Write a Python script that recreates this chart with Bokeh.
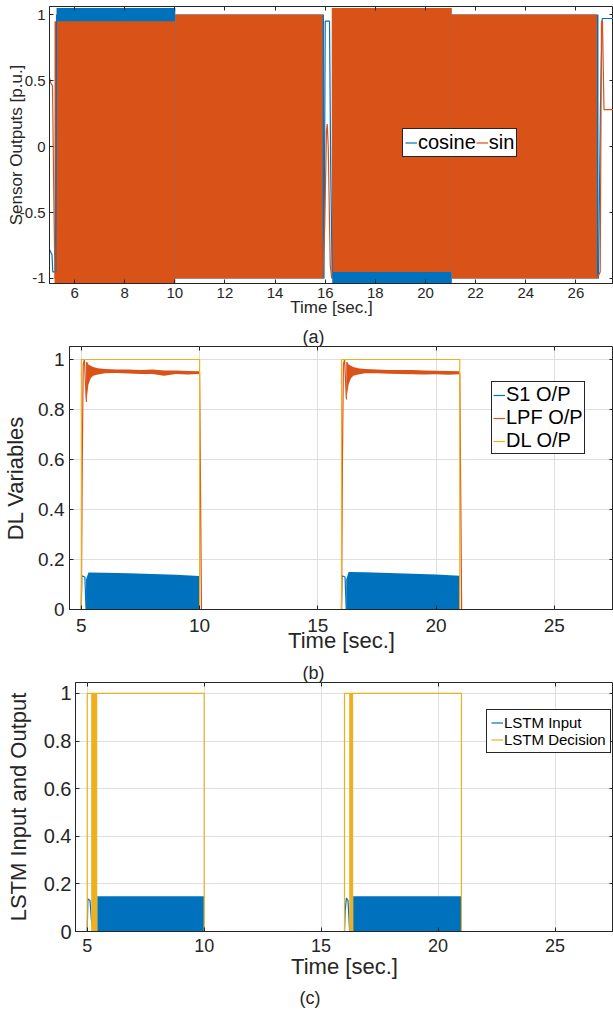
from bokeh.plotting import figure
from bokeh.models import (Range1d, FixedTicker, CustomJSTickFormatter, Legend,
                          LegendItem, Title, LinearAxis)
from bokeh.embed import file_html
from bokeh.resources import INLINE

FONT = "Liberation Sans"
TXT = "#262626"
BLUE = "#0072BD"
ORANGE = "#D95319"
YELLOW = "#EDB120"
GRID = "#DFDFDF"
NAN = float("nan")

# ---------------- Panel (a) data ----------------
a_xticks = [6, 8, 10, 12, 14, 16, 18, 20, 22, 24, 26]
a_yticks = [-1, -0.5, 0, 0.5, 1]
a_cos_pre_t = [5.0, 5.1, 5.13, 5.25, 5.28]
a_cos_pre_v = [-0.78, -0.82, -0.95, -0.95, 1.0]
a_cos_mid_t = [15.95, 16.0, 16.17, 16.22, 16.28]
a_cos_mid_v = [-1.0, 0.95, 0.95, -0.2, -1.0]
a_cos_end_t = [26.9, 26.98, 27.05, 27.5]
a_cos_end_v = [-1.0, 0.3, 0.97, 0.97]
a_sin_pre_t = [5.0, 5.05, 5.12, 5.18, 5.22]
a_sin_pre_v = [0.52, 0.48, 0.46, -0.5, -1.0]
a_sin_mid_t = [15.9, 15.98, 16.05, 16.08, 16.12, 16.2, 16.26]
a_sin_mid_v = [-1.0, -0.6, 0.12, 0.17, 0.0, -0.9, -1.0]
a_sin_end_t = [26.84, 26.97, 27.02, 27.06, 27.12, 27.5]
a_sin_end_v = [-1.0, -0.95, 0.95, 0.95, 0.28, 0.28]
# envelopes of the dense oscillation
a_cos_band_l = [5.28, 10.02, 16.28, 21.05]
a_cos_band_r = [10.02, 15.95, 21.05, 26.9]
a_cos_band_b = [-1.0, -1.0, -1.05, -1.0]
a_cos_band_t = [1.05, 1.0, 1.0, 1.0]
a_sin_band_l = [5.2, 10.02, 16.26, 21.05]
a_sin_band_r = [10.02, 15.9, 21.05, 26.84]
a_sin_band_b = [-1.05, -1.0, -0.95, -1.0]
a_sin_band_t = [0.95, 1.0, 1.05, 1.0]

# ---------------- Panel (b) data ----------------
bc_xticks = [5, 10, 15, 20, 25]
bc_yticks = [0, 0.2, 0.4, 0.6, 0.8, 1]
b_s1_t = [4.5, 5.0, 5.02, 5.15, 5.2, 10.0, 16.0, 16.02, 16.15, 16.2, 21.0, 27.5]
b_s1_v = [0, 0, 0.135, 0.13, 0.0, 0.0, 0, 0.135, 0.13, 0, 0, 0]
b_s1_band1_t = [5.2, 5.3, 6.0, 7.0, 8.0, 9.0, 10.0]
b_s1_band1_top = [0.12, 0.148, 0.147, 0.145, 0.142, 0.139, 0.134]
b_s1_band2_t = [16.2, 16.3, 17.0, 18.0, 19.0, 20.0, 21.0]
b_s1_band2_top = [0.12, 0.15, 0.149, 0.146, 0.143, 0.14, 0.135]
b_lpf_t = [4.5, 5.0, 5.04, 5.08, 5.13, 5.2, 5.22, NAN, 10.0, 10.08, 16.0, 16.04, 16.08,
           16.13, 16.2, 16.22, NAN, 21.0, 21.08, 27.5]
b_lpf_v = [0, 0, 0.6, 0.98, 1.0, 0.85, 0.83, NAN, 0.945, 0, 0, 0.6, 0.98,
           1.0, 0.85, 0.84, NAN, 0.945, 0, 0]
b_lpf_band1_t = [5.2, 5.25, 5.3, 5.4, 5.5, 5.7, 6.0, 6.5, 7.0, 7.5, 8.0, 8.5, 9.0, 9.5, 10.0]
b_lpf_band1_lo = [0.83, 0.86, 0.9, 0.925, 0.935, 0.94, 0.945, 0.946, 0.944, 0.942, 0.942,
                  0.935, 0.942, 0.94, 0.942]
b_lpf_band1_hi = [0.99, 0.99, 0.98, 0.975, 0.97, 0.965, 0.962, 0.96, 0.96, 0.958, 0.96,
                  0.956, 0.956, 0.954, 0.953]
b_lpf_band2_t = [16.2, 16.25, 16.3, 16.4, 16.5, 16.7, 17.0, 17.5, 18.0, 18.5, 19.0, 19.5,
                 20.0, 20.5, 21.0]
b_lpf_band2_lo = [0.84, 0.87, 0.9, 0.925, 0.935, 0.94, 0.945, 0.945, 0.943, 0.942, 0.941,
                  0.94, 0.941, 0.939, 0.941]
b_lpf_band2_hi = [0.99, 0.99, 0.98, 0.975, 0.97, 0.965, 0.962, 0.96, 0.958, 0.958, 0.958,
                  0.956, 0.955, 0.954, 0.953]
b_dl_t = [4.5, 5.0, 5.0, 10.0, 10.0, 16.0, 16.0, 21.0, 21.0, 27.5]
b_dl_v = [0, 0, 1, 1, 0, 0, 1, 1, 0, 0]

# ---------------- Panel (c) data ----------------
c_in_t = [4.5, 5.0, 5.03, 5.12, 5.18, 5.25, 10.0, 16.0, 16.03, 16.08, 16.15, 16.22, 21.0, 27.5]
c_in_v = [0, 0, 0.137, 0.13, 0.05, 0, 0, 0, 0.09, 0.14, 0.13, 0, 0, 0]
c_in_band_l = [5.43, 16.37]
c_in_band_r = [10.0, 21.0]
c_in_band_top = [0.148, 0.148]
c_dec_t = [4.5, 5.0, 5.0, 10.0, 10.0, 16.0, 16.0, 21.0, 21.0, 27.5]
c_dec_v = [0, 0, 1, 1, 0, 0, 1, 1, 0, 0]
c_dec_block_l = [5.17, 16.2]
c_dec_block_r = [5.43, 16.37]

FMT = CustomJSTickFormatter(code="return String(Math.round(tick*100)/100)")


def make_fig(height, mbl, mbt, mbb, xr, yr):
    p = figure(width=613, height=height, x_range=Range1d(*xr), y_range=Range1d(*yr),
               toolbar_location=None, output_backend="svg",
               min_border_left=mbl, min_border_right=0, min_border_top=mbt,
               min_border_bottom=mbb)
    p.outline_line_color = TXT
    p.outline_line_alpha = 1.0
    p.outline_line_width = 1
    return p


def style(p, xt, yt, tick_px_x, tick_px_y, xlabel, ylabel, lab_px, grid,
          xls, yls, xlab_st, ylab_st):
    xa = p.below[0]
    ya = p.left[0]
    xa.ticker = FixedTicker(ticks=xt)
    ya.ticker = FixedTicker(ticks=yt)
    for ax, sz, ls, lst, lab in ((xa, tick_px_x, xls, xlab_st, xlabel),
                                 (ya, tick_px_y, yls, ylab_st, ylabel)):
        ax.formatter = FMT
        ax.axis_label = lab
        ax.axis_label_text_font = FONT
        ax.axis_label_text_font_size = f"{lab_px}px"
        ax.axis_label_text_font_style = "normal"
        ax.axis_label_text_color = TXT
        ax.axis_label_standoff = lst
        ax.major_label_text_font = FONT
        ax.major_label_text_font_size = f"{sz}px"
        ax.major_label_text_color = TXT
        ax.major_label_standoff = ls
        ax.axis_line_color = TXT
        ax.major_tick_line_color = TXT
        ax.major_tick_in = 4
        ax.major_tick_out = 0
        ax.minor_tick_line_color = None
    ya.major_label_orientation = "horizontal"
    for loc, tk in (("above", xt), ("right", yt)):
        ax = LinearAxis(ticker=FixedTicker(ticks=tk), major_label_text_font_size="1px",
                        major_label_text_color=None,
                        axis_line_color=None, major_tick_in=4, major_tick_out=0,
                        major_tick_line_color=TXT, minor_tick_line_color=None,
                        major_label_standoff=0)
        p.add_layout(ax, loc)
    if grid:
        p.xgrid.grid_line_color = GRID
        p.ygrid.grid_line_color = GRID
        p.xgrid.ticker = FixedTicker(ticks=xt)
        p.ygrid.ticker = FixedTicker(ticks=yt)
    else:
        p.xgrid.grid_line_color = None
        p.ygrid.grid_line_color = None


def caption(p, text, px, offset, standoff, side):
    p.add_layout(Title(text=text, align="left", offset=offset, text_font=FONT,
                       text_font_size=f"{px}px", text_font_style="normal",
                       text_color=TXT, standoff=standoff), side)


def legend(p, items, loc, px, orient, lh, pad):
    lg = Legend(items=[LegendItem(label=l, renderers=[r]) for l, r in items],
                location=loc, orientation=orient, label_text_font=FONT,
                label_text_font_size=f"{px}px", label_text_color="#000000",
                glyph_width=12, glyph_height=lh, label_height=lh, label_standoff=1,
                spacing=0, padding=pad, margin=0, border_line_color=TXT,
                border_line_width=1, border_line_alpha=1, background_fill_alpha=1)
    p.add_layout(lg)


LW = 1.2

# ---------------- Figure (a) ----------------
pa = make_fig(324, 49, 6, 41, (5, 27.5), (-1.038, 1.061))
pa.quad(left=a_cos_band_l, right=a_cos_band_r, bottom=a_cos_band_b, top=a_cos_band_t,
        fill_color=BLUE, line_color=None)
pa.quad(left=a_sin_band_l, right=a_sin_band_r, bottom=a_sin_band_b, top=a_sin_band_t,
        fill_color=ORANGE, line_color=None)
r_cos = pa.line(a_cos_pre_t, a_cos_pre_v, line_color=BLUE, line_width=LW)
pa.line(a_cos_mid_t, a_cos_mid_v, line_color=BLUE, line_width=LW)
pa.line(a_cos_end_t, a_cos_end_v, line_color=BLUE, line_width=LW)
r_sin = pa.line(a_sin_pre_t, a_sin_pre_v, line_color=ORANGE, line_width=LW)
pa.line(a_sin_mid_t, a_sin_mid_v, line_color=ORANGE, line_width=LW)
pa.line(a_sin_end_t, a_sin_end_v, line_color=ORANGE, line_width=LW)
style(pa, a_xticks, a_yticks, 15, 15, "Time [sec.]", "Sensor Outputs [p.u.]", 17, False,
      4, 4, -3, -9)
legend(pa, [("cosine", r_cos), ("sin", r_sin)], (353, 126), 20, "horizontal", 17, 2)

# ---------------- Figure (b) ----------------
pb = make_fig(336, 69, 21, 51, (4.5, 27.5), (0, 1.052))
style(pb, bc_xticks, bc_yticks, 19, 19, "Time [sec.]", "DL Variables", 22, True,
      9, 5, -7, 7)
caption(pb, "(a)", 18, 233, 0, "above")
pb.varea(x=b_s1_band1_t, y1=[0] * len(b_s1_band1_t), y2=b_s1_band1_top, fill_color=BLUE)
pb.varea(x=b_s1_band2_t, y1=[0] * len(b_s1_band2_t), y2=b_s1_band2_top, fill_color=BLUE)
r_s1 = pb.line(b_s1_t, b_s1_v, line_color=BLUE, line_width=LW)
pb.varea(x=b_lpf_band1_t, y1=b_lpf_band1_lo, y2=b_lpf_band1_hi, fill_color=ORANGE)
pb.varea(x=b_lpf_band2_t, y1=b_lpf_band2_lo, y2=b_lpf_band2_hi, fill_color=ORANGE)
r_lpf = pb.line(b_lpf_t, b_lpf_v, line_color=ORANGE, line_width=LW)
r_dl = pb.line(b_dl_t, b_dl_v, line_color=YELLOW, line_width=LW)
legend(pb, [("S1 O/P", r_s1), ("LPF O/P", r_lpf), ("DL O/P", r_dl)], (422, 155), 20,
       "vertical", 22, 1)

# ---------------- Figure (c) ----------------
pc = make_fig(351, 75, 21, 79, (4.5, 27.5), (0, 1.046))
style(pc, bc_xticks, bc_yticks, 18, 20, "Time [sec.]", "LSTM Input and Output", 22, True,
      7, 4, -1, 10)
caption(pc, "(b)", 18, 227, 0, "above")
caption(pc, "(c)", 18, 224, 8, "below")
pc.quad(left=c_in_band_l, right=c_in_band_r, bottom=[0, 0], top=c_in_band_top,
        fill_color=BLUE, line_color=None)
r_in = pc.line(c_in_t, c_in_v, line_color=BLUE, line_width=LW)
pc.quad(left=c_dec_block_l, right=c_dec_block_r, bottom=[0, 0], top=[1, 1],
        fill_color=YELLOW, line_color=None)
r_dec = pc.line(c_dec_t, c_dec_v, line_color=YELLOW, line_width=LW)
legend(pc, [("LSTM Input", r_in), ("LSTM Decision", r_dec)], (411, 178), 15,
       "vertical", 17, 4)

open("out.html", "w").write(file_html([pa, pb, pc], INLINE))
